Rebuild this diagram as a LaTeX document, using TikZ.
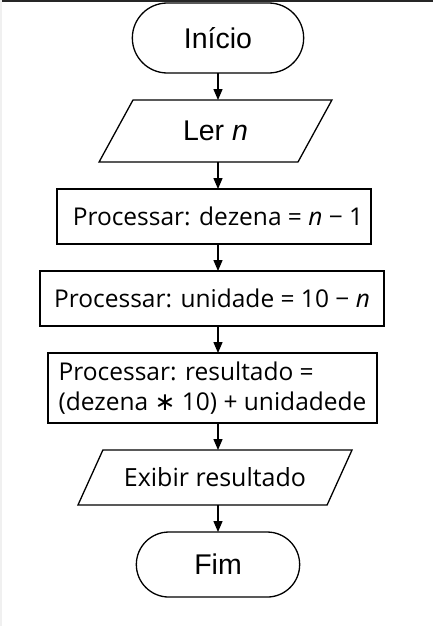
\documentclass[tikz,border=0pt]{standalone}
\usepackage{fontspec}
\setmainfont{Liberation Sans}
\newfontfamily\boxfont{Open Sans}
\newfontfamily\symfont{DejaVu Sans}
\usetikzlibrary{positioning, arrows.meta, shapes.misc, shapes.geometric}

\begin{document}
\begin{tikzpicture}[node distance=27pt, line width=1.3pt, outer sep=0pt,
    >={Triangle[length=11pt, width=9pt]},
    terminal/.style={draw, rounded rectangle, font=\fontsize{28.5}{32}\selectfont},
    inout/.style={draw, trapezium, trapezium stretches=true, font=\fontsize{28.5}{32}\selectfont},
    process/.style={draw, rectangle, minimum height=55pt, font=\boxfont\fontsize{24.5}{30}\selectfont}]
    \useasboundingbox (0,0) rectangle (433pt,-626pt);
    \fill[black!85] (0,0) rectangle (433pt,-2.5pt);
    \fill[black!6] (0,0) rectangle (2pt,-626pt);

    % Define nodes
    \node [terminal, minimum width=178pt, minimum height=70pt] (inicio) at (218pt,-38pt) {Início};
    \node [inout, trapezium left angle=61, trapezium right angle=119, minimum width=233pt, minimum height=62pt,
           below=of inicio, xshift=-2.5pt] (ler) {Ler \textit{n}};
    \node [process, minimum width=314pt, below=of ler, xshift=-1.5pt] (dezena) {\hspace{8pt}Processar: dezena = \textit{n} − 1};
    \node [process, minimum width=344pt, below=of dezena, xshift=-2pt] (unidade) {Processar: unidade = 10 − \textit{n}};
    \node [process, minimum width=329pt, minimum height=70pt, align=left, below=of unidade, xshift=0.5pt] (resultado)
          {Processar: resultado =\\(dezena {\symfont\fontsize{25}{30}\selectfont ∗} 10) + unidadede};
    \node [inout, trapezium left angle=51, trapezium right angle=129, minimum width=275pt, minimum height=55pt,
           font=\boxfont\fontsize{25}{30}\selectfont, below=of resultado, xshift=2.5pt] (exibir) {Exibir resultado};
    \node [terminal, minimum width=170pt, minimum height=65pt, below=of exibir, xshift=3pt] (fim) {Fim};

    % Arrows down the chart
    \draw[->] (inicio.south) -- (ler.north -| inicio);
    \draw[->] (ler.south -| inicio) -- (dezena.north -| inicio);
    \draw[->] (dezena.south -| inicio) -- (unidade.north -| inicio);
    \draw[->] (unidade.south -| inicio) -- (resultado.north -| inicio);
    \draw[->] (resultado.south -| inicio) -- (exibir.north -| inicio);
    \draw[->] (exibir.south -| inicio) -- (fim.north);
\end{tikzpicture}
\end{document}
